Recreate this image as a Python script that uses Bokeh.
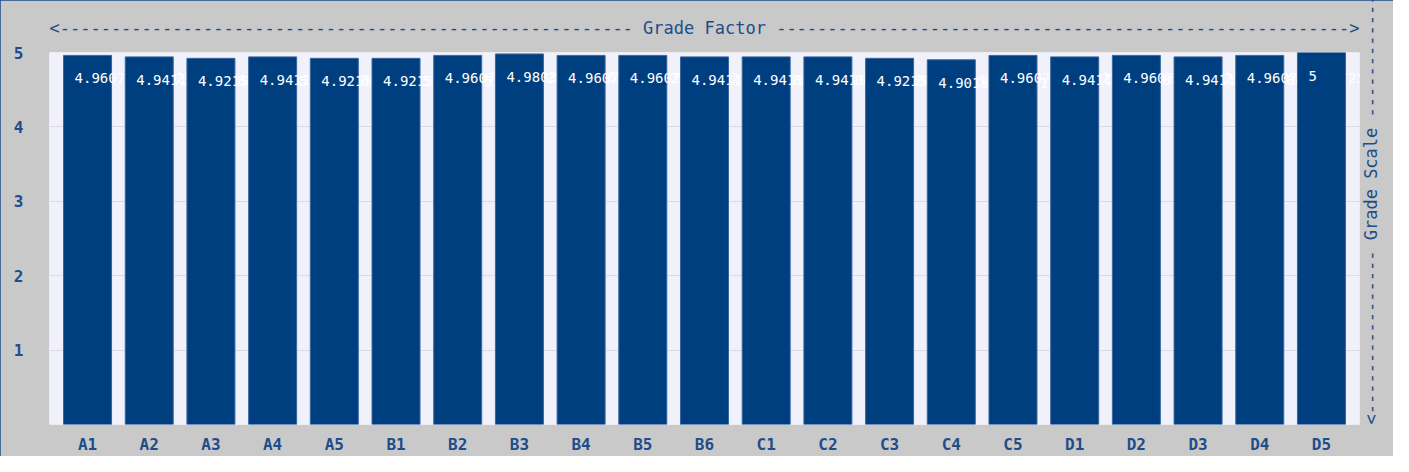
import math
from bokeh.plotting import figure
from bokeh.models import FactorRange, FixedTicker, LinearAxis, ColumnDataSource
from bokeh.core.properties import value
from bokeh.embed import file_html
from bokeh.resources import INLINE

categories = ["A1", "A2", "A3", "A4", "A5", "B1", "B2", "B3", "B4", "B5", "B6",
              "C1", "C2", "C3", "C4", "C5", "D1", "D2", "D3", "D4", "D5"]
grades = [4.9607843137255, 4.9411764705882, 4.921568627451, 4.9411764705882,
          4.921568627451, 4.921568627451, 4.9607843137255, 4.9803921568627,
          4.9607843137255, 4.9607843137255, 4.9411764705882, 4.9411764705882,
          4.9411764705882, 4.921568627451, 4.9019607843137, 4.9607843137255,
          4.9411764705882, 4.9607843137255, 4.9411764705882, 4.9607843137255,
          5.0]
y_ticks = [1, 2, 3, 4, 5]
x_title = "Grade Factor"
y_title = "Grade Scale"


def fmt(v):
    return str(int(v)) if v == int(v) else repr(v)


labels = [fmt(v) for v in grades]

MONO = "DejaVu Sans Mono"
INK = "#1d4d8a"
BAR = "#003f7f"

p = figure(
    width=1393, height=456,
    x_range=FactorRange(factors=categories, range_padding=0.0111,
                        range_padding_units="percent"),
    y_range=(0, 5),
    output_backend="svg", toolbar_location=None,
    min_border_left=49, min_border_right=34, min_border_top=52, min_border_bottom=31,
)
p.background_fill_color = "#f1f1fc"
p.border_fill_color = "#c9c9c9"
p.outline_line_color = None
p.styles = {"outline": "2px solid #1d4d8a", "outline-offset": "-2px"}

dash_n = 56
p.title.text = "<" + "-" * dash_n + " " + x_title + " " + "-" * dash_n + ">"
p.title.align = "center"
p.title.text_font = MONO
p.title.text_font_size = "17px"
p.title.text_font_style = "normal"
p.title.text_color = INK
p.title.standoff = 29

for i, cat in enumerate(categories):
    src = ColumnDataSource(dict(x=[cat], top=[grades[i]], label=[labels[i]]))
    p.vbar(x="x", top="top", bottom=0, width=0.778, source=src,
           fill_color=BAR, line_color="#3a66a0", line_width=1)
    p.text(x="x", y="top", text="label", source=src,
           text_color="white", text_font=value(MONO), text_font_size="14px",
           text_align="left", text_baseline="top", x_offset=-13, y_offset=18)

p.xgrid.grid_line_color = None
p.ygrid.ticker = FixedTicker(ticks=y_ticks)
p.ygrid.grid_line_color = "#dadae0"
p.ygrid.grid_line_width = 1

p.yaxis.ticker = FixedTicker(ticks=y_ticks)
for ax in (p.xaxis[0], p.yaxis[0]):
    ax.axis_line_color = None
    ax.major_tick_line_color = None
    ax.minor_tick_line_color = None
    ax.major_tick_out = 0
    ax.major_tick_in = 0
    ax.minor_tick_out = 0
    ax.major_label_text_font = MONO
    ax.major_label_text_font_size = "16px"
    ax.major_label_text_font_style = "bold"
    ax.major_label_text_color = INK
p.yaxis.major_label_standoff = 26
p.xaxis.major_label_standoff = 10

dash_v = 16
right_axis = LinearAxis(
    ticker=FixedTicker(ticks=[]),
    axis_label="<" + "-" * dash_v + " " + y_title + " " + "-" * dash_v + ">",
    axis_label_text_font=MONO, axis_label_text_font_size="17px",
    axis_label_text_font_style="normal", axis_label_text_color=INK,
    axis_label_standoff=11, major_label_standoff=0,
    axis_line_color=None, major_tick_line_color=None, minor_tick_line_color=None,
    major_tick_out=0, major_tick_in=0, minor_tick_out=0,
)
props = right_axis.properties()
if "axis_label_orientation" in props:
    right_axis.axis_label_orientation = math.pi / 2
if "axis_label_align" in props:
    right_axis.axis_label_align = "start"
p.add_layout(right_axis, "right")

open("out.html", "w").write(file_html(p, INLINE))
